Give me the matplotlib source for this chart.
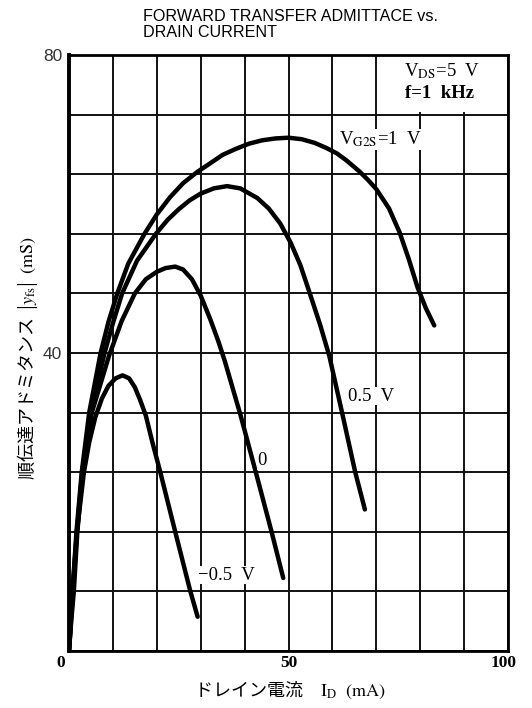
import numpy as np
import matplotlib
matplotlib.use('Agg')
import matplotlib.pyplot as plt
from matplotlib.patches import Rectangle
from matplotlib.transforms import offset_copy

plt.rcParams['mathtext.fontset'] = 'stix'

# datos (ID en mA, |yfs| en mS)
id_1v = [0, 0.4, 0.8, 1.7, 2.9, 4.6, 7.2, 9.0, 11.0, 13.5, 17.2, 20, 23, 26, 29.2, 32, 35, 38, 41, 44,
         47, 50, 53, 56, 58.7, 61, 63.1, 66.1, 68, 70, 72.9, 75.3, 77.4, 79.4, 81.3, 83.2]
yfs_1v = [0, 4, 8, 16, 24, 32, 40, 44.2, 48, 52, 56, 58.6, 60.9, 62.8, 64.3, 65.4, 66.6, 67.4, 68.1, 68.55,
          68.8, 68.9, 68.7, 68.2, 67.5, 66.8, 65.9, 64.4, 63.3, 62.0, 59.4, 56.2, 52.6, 48.8, 46.0, 43.7]

id_05v = [0, 0.45, 0.9, 1.8, 3.0, 4.9, 8.1, 10.0, 12.1, 15.5, 19.8, 22.5, 25, 27.5, 30, 33, 36, 39,
          42.9, 45.5, 48.1, 50.5, 52.7, 54.8, 57.2, 59.3, 62.2, 65.2, 67.4]
yfs_05v = [0, 4, 8, 16, 24, 32, 40, 44, 48, 52.4, 56, 57.9, 59.3, 60.5, 61.4, 62.1, 62.4, 62.1,
           60.8, 59.4, 57.4, 54.8, 51.8, 48.1, 43.8, 39.6, 32.0, 24.0, 19.0]

id_0v = [0, 0.5, 1.1, 1.9, 3.1, 5.2, 9.1, 12.0, 15.0, 17.5, 20, 22, 24.2, 26, 28, 30, 32.2, 34.0,
         35.5, 39.1, 42.6, 46.1, 48.8]
yfs_0v = [0, 4, 8, 16, 24, 32, 39.6, 44.3, 48, 49.9, 50.9, 51.4, 51.6, 51.2, 49.9, 47.7, 44.5, 41.6,
          38.9, 31.6, 23.9, 16.1, 9.8]

id_m05v = [0, 0.35, 0.8, 1.8, 3.4, 4.6, 6.0, 7.5, 9.0, 10.6, 12.2, 13.7, 15.0, 16.2, 17.5, 19.0,
           20.8, 24.2, 27.6, 29.3]
yfs_m05v = [0, 4, 8, 16, 24, 28.0, 31.4, 33.9, 35.6, 36.6, 37.0, 36.6, 35.4, 33.7, 31.6, 28.0,
            24.0, 16.0, 8.1, 4.6]

xgrid = list(range(0, 101, 10))
ygrid = list(range(0, 81, 8))
xlabels = {0: '0', 50: '50', 100: '100'}
ylabels = {40: '40', 80: '80'}

fig = plt.figure(figsize=(5.32, 7.08), dpi=100)
ax = fig.add_axes([0.1297, 0.0805, 0.8252, 0.8418])
ax.set_xlim(0, 100)
ax.set_ylim(0, 80)

ax.set_xticks(xgrid)
ax.set_xticklabels([xlabels.get(v, '') for v in xgrid], family='Liberation Serif',
                   fontweight='bold', fontsize=12.5)
ax.set_yticks(ygrid)
ax.set_yticklabels([ylabels.get(v, '') for v in ygrid], family='Liberation Sans',
                   fontsize=12.5, color='#333333')
ax.tick_params(length=0)
ax.tick_params(axis='x', pad=3)
ax.tick_params(axis='y', pad=5)
# el 0 queda a la izquierda del eje, el 100 un poco hacia dentro
tl = ax.get_xticklabels()
tl[0].set_transform(offset_copy(tl[0].get_transform(), fig=fig, x=-8, units='dots'))
tl[-1].set_transform(offset_copy(tl[-1].get_transform(), fig=fig, x=-4, units='dots'))

ax.set_axisbelow(True)
ax.grid(True, color='#111111', lw=1.4)
for s in ax.spines.values():
    s.set_linewidth(2.0)
ax.spines['left'].set_linewidth(2.8)

# hueco blanco para las condiciones
ax.add_patch(Rectangle((70.3, 72.3), 29.5, 7.6, facecolor='white', edgecolor='none', zorder=1))

for xs, ys in [(id_1v, yfs_1v), (id_05v, yfs_05v), (id_0v, yfs_0v), (id_m05v, yfs_m05v)]:
    ax.plot(xs, ys, color='black', lw=3.2, solid_capstyle='round', solid_joinstyle='round', zorder=3)

box = dict(facecolor='white', edgecolor='none', pad=0.5)
tfont = dict(family='Liberation Serif', fontsize=13.5, zorder=4)
ax.text(61.6, 68.7, r'V$_{\mathrm{G2S}}$=1  V', ha='left', va='center', bbox=box, **tfont)
ax.text(63.6, 34.2, '0.5  V', ha='left', va='center', bbox=box, **tfont)
ax.text(44.0, 25.6, '0', ha='center', va='center', bbox=box, **tfont)
ax.text(29.4, 10.2, '\u22120.5  V', ha='left', va='center', bbox=box, **tfont)
ax.text(84.9, 77.9, r'V$_{\mathrm{DS}}$=5  V', ha='center', va='center', **tfont)
ax.text(84.5, 74.9, 'f=1  kHz', ha='center', va='center', fontweight='bold', **tfont)

fig.text(0.269, 1 - 9 / 708, 'FORWARD TRANSFER ADMITTACE vs.\nDRAIN CURRENT',
         ha='left', va='top', family='Liberation Sans', fontsize=11.6, linespacing=1.12)

fig.text(0.545, 1 - 690 / 708, 'ドレイン電流　$\\mathrm{I_D\\ \\ (mA)}$', ha='center', va='center',
         family='Noto Sans CJK JP', fontsize=13)
fig.text(0.052, 1 - 358 / 708, '順伝達アドミタンス  |$y_{\\mathrm{fs}}$|  $\\mathrm{(mS)}$', ha='center',
         va='center', rotation=90, family='Noto Sans CJK JP', fontsize=13)

fig.savefig('out.png', dpi=100)
